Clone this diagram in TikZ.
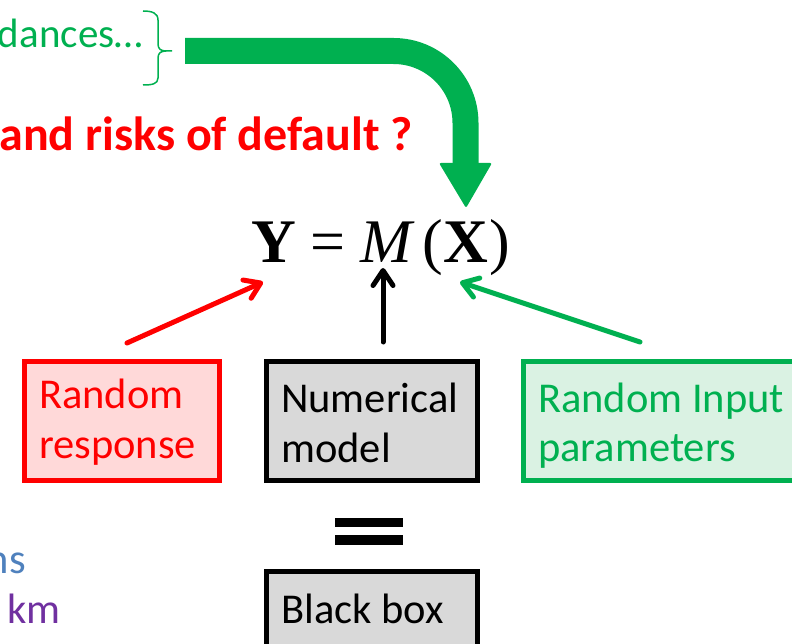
\documentclass[tikz,border=0pt]{standalone}
\usepackage{fontspec}
\setmainfont{Carlito}
\newfontfamily\eqfont{Liberation Serif}
\usetikzlibrary{arrows.meta}

\definecolor{slgreen}{HTML}{00B050}
\definecolor{slred}{HTML}{FF0000}
\definecolor{slblue}{HTML}{4F81BD}
\definecolor{slpurple}{HTML}{7030A0}
\definecolor{pinkfill}{HTML}{FFD9D9}
\definecolor{greyfill}{HTML}{D9D9D9}
\definecolor{mintfill}{HTML}{DAF2E3}

\begin{document}
\begin{tikzpicture}[x=1pt,y=-1pt,
  bodytext/.style={inner sep=0pt, font=\fontsize{42.5}{50}\selectfont},
  boxline/.style={bodytext, anchor=base west},
  glyph/.style={anchor=base west, inner sep=0pt, font=\eqfont\fontsize{62}{62}\selectfont},
  panel/.style={line width=5pt, minimum width=#1, anchor=north west, inner sep=0pt},
  ptr/.style={line width=5pt, line cap=round, -{Straight Barb[length=15pt, width=20pt, round]}},
  bigflow/.style={slgreen, line width=26pt, rounded corners=72pt}]

\useasboundingbox (0,0) rectangle (792,644);
\clip (0,0) rectangle (792,644);

% headline fragments
\node[anchor=base east, inner sep=0pt, text=slgreen, font=\fontsize{41}{41}\selectfont]
  (dances) at (143,48) {dances…};
\node[anchor=base east, inner sep=0pt, text=slred, font=\bfseries\fontsize{48}{48}\selectfont]
  (risks) at (413,151) {and risks of default ?};

% right brace closing the list
\draw[slgreen, line width=1.5pt]
  (143,11) .. controls (152,11) and (158,13) .. (158,20) -- (158,44)
  .. controls (158,49) and (161,51) .. (166,51) -- (172,51)
  (166,51) .. controls (161,51) and (158,53) .. (158,58) -- (158,78)
  .. controls (158,84) and (152,85) .. (143,85);
\coordinate (bracetip) at (172,51);

% the model equation Y = M (X)
\node[glyph] (eqY) at (251,263) {\textbf{Y}};
\node[glyph] (eqeq) at (310,263) {=};
\node[glyph] (eqM) at (360,263) {\textit{M}};
\node[glyph] (eqlp) at (422,263) {(};
\node[glyph] (eqX) at (443,263) {\textbf{X}};
\node[glyph] (eqrp) at (489,263) {)};

% big curved arrow from the list to the equation
\coordinate (bigstart) at (185,51);
\coordinate (bigbend) at (465.5,51);
\coordinate (bigend) at (465.5,166);
\draw[bigflow] (bigstart) -- (bigbend) -- (bigend);
\fill[slgreen, rounded corners=2pt] (439,163) -- (492,163) -- (466,208) -- cycle;

% three boxes
\node[panel=195pt, minimum height=119pt, draw=slred, fill=pinkfill] (rbox) at (21.5,358.5) {};
\node[panel=211pt, minimum height=119.5pt, draw=black, fill=greyfill] (nbox) at (263.5,358.5) {};
\node[panel=300pt, minimum height=119pt, draw=slgreen, fill=mintfill] (gbox) at (520.5,358.5) {};

\node[boxline, text=slred] (r1) at (39,408) {Random};
\node[boxline, text=slred] (r2) at (39,458) {response};
\node[boxline] (n1) at (281,412) {Numerical};
\node[boxline] (n2) at (281,462) {model};
\node[boxline, text=slgreen] (g1) at (538,412) {Random Input};
\node[boxline, text=slgreen] (g2) at (538,461) {parameters};

% arrows pointing at the parts of the equation
\coordinate (rtail) at (127,343);
\coordinate (rtip) at (263,282);
\coordinate (ntail) at (383,342);
\coordinate (ntip) at (383,268);
\coordinate (gtail) at (640,342);
\coordinate (gtip) at (460,282);
\draw[ptr, slred] (rtail) -- (rtip);
\draw[ptr, black] (ntail) -- (ntip);
\draw[ptr, slgreen] (gtail) -- (gtip);

% heavy equals sign and the black box
\fill (335,518) rectangle (403,527);
\fill (335,535) rectangle (403,545);
\node[panel=211pt, minimum height=100pt, draw=black, fill=greyfill] (bbox) at (263.5,568.5) {};
\node[boxline] (b1) at (281,623) {Black box};

% left margin fragments
\node[bodytext, anchor=base east, text=slblue] (ns) at (26,573) {ns};
\node[boxline, text=slpurple] (km) at (7,623) {km};
\end{tikzpicture}
\end{document}
